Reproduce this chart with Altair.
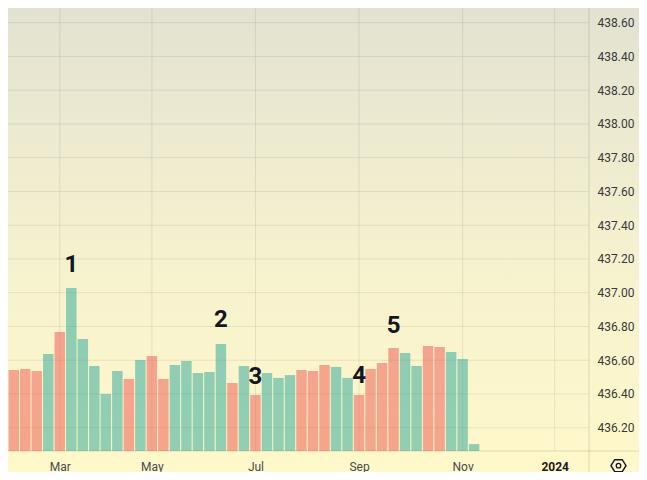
import json
import altair as alt
import pandas as pd

# ---- data ----
week_index = list(range(41))
volume = [436.542, 436.548, 436.536, 436.637, 436.767, 437.028, 436.726, 436.566, 436.400, 436.536,
          436.489, 436.601, 436.625, 436.489, 436.572, 436.595, 436.524, 436.530, 436.696, 436.465,
          436.566, 436.394, 436.524, 436.495, 436.512, 436.542, 436.536, 436.572, 436.560, 436.495,
          436.394, 436.548, 436.584, 436.673, 436.643, 436.566, 436.684, 436.678, 436.649, 436.607,
          436.103]
direction = ["down", "down", "down", "up", "down", "up", "up", "up", "up", "up",
             "down", "up", "down", "down", "up", "up", "up", "up", "up", "down",
             "up", "down", "up", "up", "up", "down", "down", "down", "up", "up",
             "down", "down", "down", "down", "up", "up", "down", "down", "up", "up",
             "up"]
marker_index = [5, 18, 21, 30, 33]
marker_text = ["1", "2", "3", "4", "5"]
marker_level = [437.124, 436.795, 436.457, 436.463, 436.763]
x_tick_index = [4, 12, 21, 30, 39, 47]
x_tick_text = ["Mar", "May", "Jul", "Sep", "Nov", "2024"]
y_ticks = [436.2, 436.4, 436.6, 436.8, 437.0, 437.2, 437.4, 437.6, 437.8, 438.0, 438.2, 438.4, 438.6]

# ---- layout ----
W, H = 581, 443
PAD_R, PAD_B = 50, 21
TOTAL_W, TOTAL_H = W + PAD_R, H + PAD_B
X_DOMAIN = [-0.5, 49.98]
Y_DOMAIN = [436.062, 438.687]
FONT = "Roboto"

bars_df = pd.DataFrame({"week": week_index, "volume": volume, "dir": direction})
markers_df = pd.DataFrame({"week": marker_index, "label": marker_text, "level": marker_level})
xgrid_df = pd.DataFrame({"week": x_tick_index})
ygrid_df = pd.DataFrame({"level": y_ticks})
one = pd.DataFrame({"k": [0]})

label_expr = "%s[indexof(%s, datum.value)]" % (json.dumps(x_tick_text), json.dumps(x_tick_index))
year_test = "datum.value == %d" % x_tick_index[-1]

x_axis = alt.Axis(values=x_tick_index, labelExpr=label_expr, title=None, grid=False, ticks=False,
                  domain=False, labelPadding=10, labelFont=FONT, labelFontSize=12,
                  labelColor={"condition": {"test": year_test, "value": "#1a1a1a"}, "value": "#4a4a4a"},
                  labelFontWeight={"condition": {"test": year_test, "value": "bold"}, "value": "normal"},
                  labelOverlap=False, labelFlush=False, zindex=1)
y_axis = alt.Axis(orient="right", values=y_ticks, format=".2f", title=None, grid=False, ticks=False,
                  domain=False, labelPadding=8, labelFont=FONT, labelFontSize=12, labelColor="#383838",
                  labelOverlap=False, labelFlush=False, zindex=1)


def xenc(field):
    return alt.X(field, type="quantitative", scale=alt.Scale(domain=X_DOMAIN, nice=False, zero=False), axis=x_axis)


def yenc(field):
    return alt.Y(field, type="quantitative", scale=alt.Scale(domain=Y_DOMAIN, nice=False, zero=False), axis=y_axis)


gradient = alt.LinearGradient(
    gradient="linear",
    stops=[alt.GradientStop(offset=0, color="#e3e2d1"),
           alt.GradientStop(offset=0.55, color="#f6f2cf"),
           alt.GradientStop(offset=1, color="#fef8ca")],
    x1=0, x2=0, y1=0, y2=1,
)

bg = alt.Chart(one).mark_rect(color=gradient).encode(
    x=alt.value(0), x2=alt.value(TOTAL_W), y=alt.value(0), y2=alt.value(TOTAL_H))

hgrid = alt.Chart(ygrid_df).mark_rule(color="black", opacity=0.08, strokeWidth=1).encode(
    y=yenc("level"), x=alt.value(0), x2=alt.value(W))
vgrid = alt.Chart(xgrid_df).mark_rule(color="black", opacity=0.08, strokeWidth=1).encode(
    x=xenc("week"), y=alt.value(0), y2=alt.value(H))

bars = alt.Chart(bars_df).transform_calculate(
    x0="datum.week - 0.455", x1="datum.week + 0.455"
).mark_bar(opacity=0.5, clip=True).encode(
    x=xenc("x0"),
    x2="x1:Q",
    y=yenc("volume"),
    y2=alt.datum(Y_DOMAIN[0]),
    color=alt.Color("dir:N", scale=alt.Scale(domain=["up", "down"], range=["#26a69a", "#ef5350"]), legend=None),
)

markers = alt.Chart(markers_df).mark_text(font=FONT, fontSize=24, fontWeight="bold", color="#131722",
                                          baseline="alphabetic", align="center").encode(
    x=xenc("week"), y=yenc("level"), text="label:N")

frame_v = alt.Chart(one).mark_rule(color="black", opacity=0.12, strokeWidth=1).encode(
    x=alt.value(W), y=alt.value(0), y2=alt.value(TOTAL_H))
frame_h = alt.Chart(one).mark_rule(color="black", opacity=0.12, strokeWidth=1).encode(
    x=alt.value(0), x2=alt.value(TOTAL_W), y=alt.value(H))

hexagon = "M -1 0 L -0.5 -0.8 L 0.5 -0.8 L 1 0 L 0.5 0.8 L -0.5 0.8 Z"
gear_hex = alt.Chart(one).mark_point(shape=hexagon, size=225, filled=False, color="#131722",
                                     strokeWidth=1.4, opacity=1).encode(
    x=alt.value(610.5), y=alt.value(457.7))
gear_dot = alt.Chart(one).mark_point(shape="circle", size=20, filled=False, color="#131722",
                                     strokeWidth=1.3, opacity=1).encode(
    x=alt.value(610.5), y=alt.value(457.7))

chart = alt.layer(bg, hgrid, vgrid, bars, markers, frame_v, frame_h, gear_hex, gear_dot).properties(
    width=W, height=H,
    autosize=alt.AutoSizeParams(type="none"),
    padding={"left": 0, "top": 0, "right": PAD_R, "bottom": PAD_B},
    background="#fef8ca",
).configure_view(stroke=None)

chart.save("out.html", embed_options={"renderer": "svg", "actions": False})
